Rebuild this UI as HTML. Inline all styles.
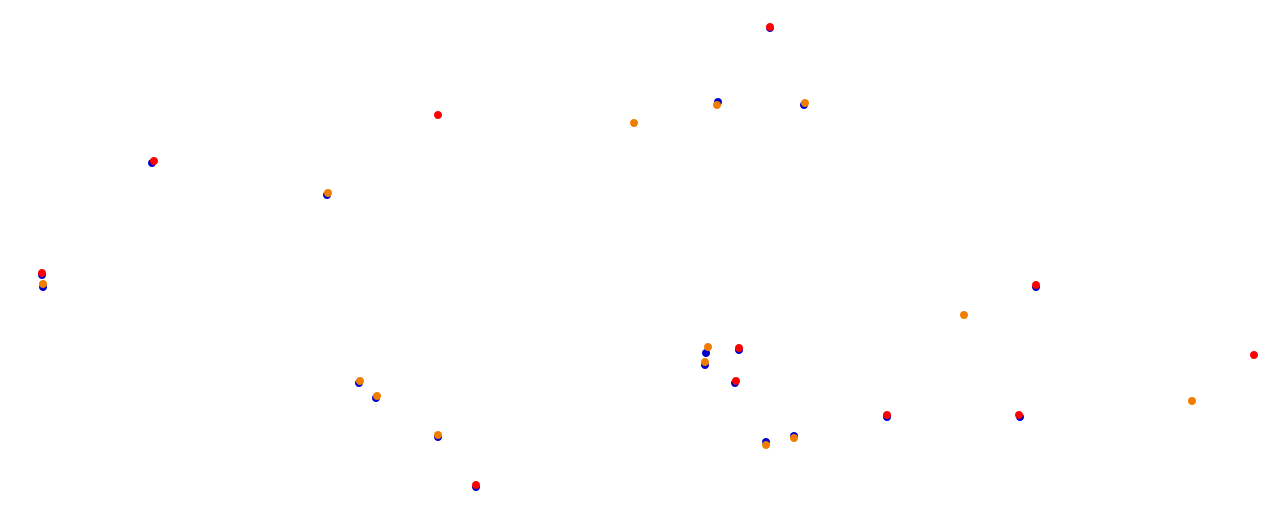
<!DOCTYPE html>
<html><head><style>html,body{margin:0;padding:0;background:#fff;}svg{display:block}</style></head>
<body>
<svg width="1277" height="514" xmlns="http://www.w3.org/2000/svg">
<g fill="#0000cc">
<circle cx="152" cy="163" r="4"/>
<circle cx="42" cy="275" r="4"/>
<circle cx="1036" cy="287" r="4"/>
<circle cx="739" cy="350" r="4"/>
<circle cx="735" cy="383" r="4"/>
<circle cx="887" cy="417" r="4"/>
<circle cx="1020" cy="417" r="4"/>
<circle cx="476" cy="487" r="4"/>
<circle cx="770" cy="28" r="4"/>
<circle cx="718" cy="102" r="4"/>
<circle cx="804" cy="105" r="4"/>
<circle cx="327" cy="195" r="4"/>
<circle cx="43" cy="287" r="4"/>
<circle cx="359" cy="383" r="4"/>
<circle cx="376" cy="398" r="4"/>
<circle cx="438" cy="437" r="4"/>
<circle cx="706" cy="353" r="4"/>
<circle cx="705" cy="365" r="4"/>
<circle cx="766" cy="442" r="4"/>
<circle cx="794" cy="436" r="4"/>
</g>
<g fill="#f07d00">
<circle cx="634" cy="123" r="4"/>
<circle cx="717" cy="105" r="4"/>
<circle cx="805" cy="103" r="4"/>
<circle cx="328" cy="193" r="4"/>
<circle cx="43" cy="284" r="4"/>
<circle cx="360" cy="381" r="4"/>
<circle cx="377" cy="396" r="4"/>
<circle cx="438" cy="435" r="4"/>
<circle cx="708" cy="347" r="4"/>
<circle cx="705" cy="362" r="4"/>
<circle cx="964" cy="315" r="4"/>
<circle cx="1192" cy="401" r="4"/>
<circle cx="766" cy="445" r="4"/>
<circle cx="794" cy="438" r="4"/>
</g>
<g fill="#ff0000">
<circle cx="770" cy="27" r="4"/>
<circle cx="438" cy="115" r="4"/>
<circle cx="154" cy="161" r="4"/>
<circle cx="42" cy="273" r="4"/>
<circle cx="1036" cy="285" r="4"/>
<circle cx="739" cy="348" r="4"/>
<circle cx="736" cy="381" r="4"/>
<circle cx="887" cy="415" r="4"/>
<circle cx="1019" cy="415" r="4"/>
<circle cx="476" cy="485" r="4"/>
<circle cx="1254" cy="355" r="4"/>
</g>
</svg>
</body></html>
